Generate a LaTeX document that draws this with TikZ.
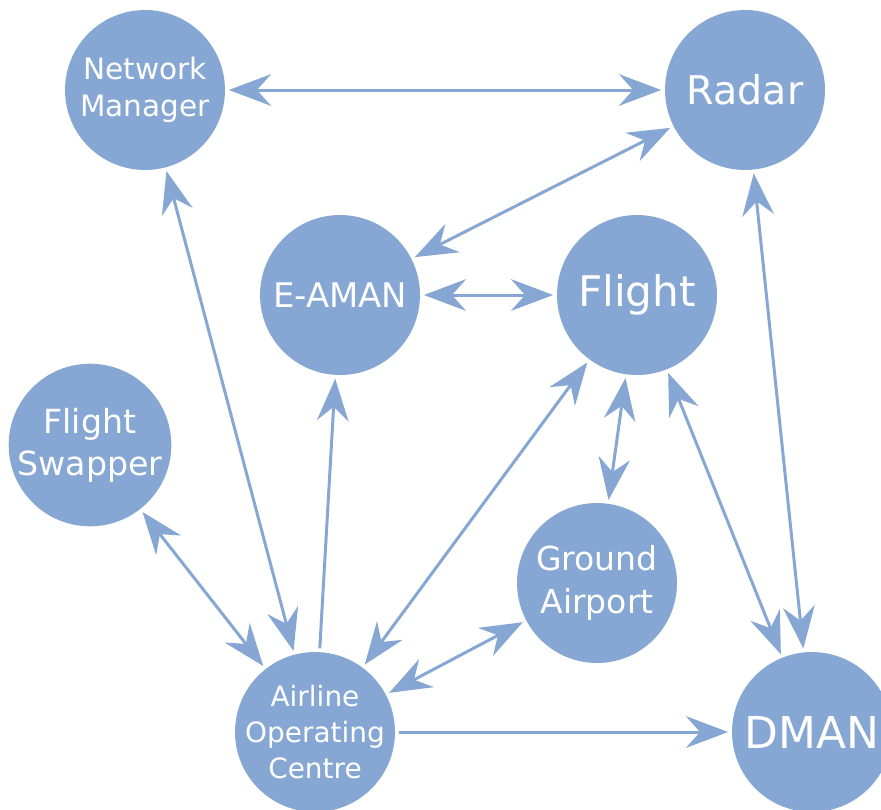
\documentclass[tikz,border=0pt]{standalone}
\usepackage{fontspec}
\setmainfont{DejaVu Sans}
\usetikzlibrary{arrows.meta}

\definecolor{agentblue}{RGB}{134,167,211}

\tikzset{
  agent/.style={circle, fill=agentblue, text=white, minimum size=3.2cm,
    inner sep=0pt, align=center},
  link/.style={draw=agentblue, line width=1.7pt, shorten <=2pt, shorten >=2pt},
  >={Stealth[length=24pt, width=18pt, inset=8pt]}
}

\newcommand{\fs}[2]{\fontsize{#1}{#2}\selectfont}

\begin{document}
\begin{tikzpicture}[x=0.02cm, y=-0.02cm]
            \useasboundingbox (0,0) rectangle (881,809);

            \node[agent, font=\fs{16.8pt}{21pt}] (nm) at (145,90) {Network\\Manager};
            \node[agent, font=\fs{22.5pt}{27pt}] (radar) at (745,90) {Radar};
            \node[agent, font=\fs{19.3pt}{23pt}] (eaman) at (340,295) {E-AMAN};
            \node[agent, font=\fs{24pt}{29pt}] (flight) at (637,295) {Flight};
            \node[agent, font=\fs{18.9pt}{23.8pt}] (swapper) at (90,445) {Flight\\Swapper};
            \node[agent, font=\fs{18.8pt}{24.4pt}] (ground) at (597,583) {Ground\\Airport};
            \node[agent, inner sep=-15pt, font=\fs{15.9pt}{20.4pt}] (aoc) at (315,732) {Airline\\Operating\\Centre};
            \node[agent, font=\fs{25pt}{30pt}] (dman) at (812,732) {DMAN};

            \draw[link, <->] (nm) -- (radar);
            \draw[link, <->] (nm) -- (aoc);
            \draw[link, <->] (radar) -- (eaman);
            \draw[link, <->] (eaman) -- (flight);
            \draw[link, <->] (radar) -- (dman);
            \draw[link, <->] (flight) -- (ground);
            \draw[link, <->] (flight) -- (dman);
            \draw[link, <->] (flight) -- (aoc);
            \draw[link, <->] (ground) -- (aoc);
            \draw[link, <->] (swapper) -- (aoc);
            \draw[link, ->] (aoc) -- (eaman);
            \draw[link, ->] (aoc) -- (dman);
        \end{tikzpicture}
\end{document}
